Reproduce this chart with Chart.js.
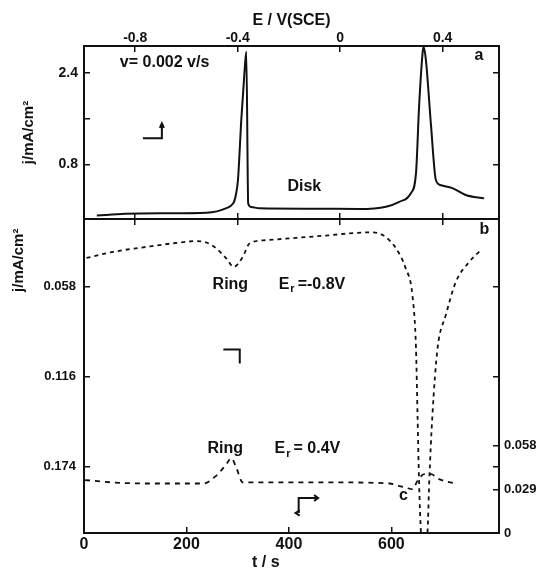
<!DOCTYPE html>
<html>
<head>
<meta charset="utf-8">
<script src="https://cdn.jsdelivr.net/npm/chart.js@4.4.1/dist/chart.umd.min.js"></script>
<style>
  html, body { margin: 0; padding: 0; background: #fff; }
  #wrap { position: relative; width: 537px; height: 571px; }
  #wrap canvas { position: absolute; left: 0; top: 0; }
</style>
</head>
<body>
<div id="wrap">
  <canvas id="ringChart" width="537" height="571"></canvas>
  <canvas id="diskChart" width="537" height="571"></canvas>
</div>
<script>
// ---- tick labels ----
const eTicks = [-0.8, -0.4, 0, 0.4];
const eTickLabels = ["-0.8", "-0.4", "0", "0.4"];
const tTicks = [0, 200, 400, 600];
const tTickLabels = ["0", "200", "400", "600"];
const diskTicks = [0.8, 1.6, 2.4];
const diskTickLabels = ["0.8", "", "2.4"];
const ringLeftTicks = [0.058, 0.116, 0.174];
const ringLeftLabels = ["0.058", "0.116", "0.174"];
const ringRightTicks = [0, 0.029, 0.058];
const ringRightLabels = ["0", "0.029", "0.058"];

// ---- disk current (panel a), t in s, j in mA/cm2 ----
const diskT = [25, 80, 160, 239, 278, 291, 294, 297, 300.5, 307, 313.5, 316.8,
  320.5, 326, 342.7, 440, 537.5, 589.5, 615.4, 638, 648, 654, 660.8, 662.8,
  667.4, 677, 686.8, 696.6, 719, 745, 781];
const diskJ = [-0.09, -0.06, -0.05, -0.04, 0.04, 0.12, 0.18, 0.30, 0.53, 1.58, 2.45, 2.77,
  0.12, 0.06, 0.036, 0.03, 0.024, 0.065, 0.15, 0.30, 0.65, 1.81, 2.74, 2.86,
  2.62, 1.52, 0.53, 0.44, 0.39, 0.27, 0.21];

// ---- ring current, Er = -0.8 V (left axis, plotted downward) ----
const ringNegT = [5, 57, 122, 187, 219.5, 239, 258, 278, 292, 310, 323, 355.8, 414, 466,
  557, 583, 609, 628, 641, 648, 651, 654, 657.6, 663, 670.5, 673.8, 680, 690, 706,
  725.8, 751.7, 774.5];
const ringNegJ = [0.0398, 0.0359, 0.0327, 0.0299, 0.029, 0.0299, 0.0337, 0.0402, 0.0456,
  0.0391, 0.0305, 0.0284, 0.0269, 0.0256, 0.0234, 0.0251, 0.0337, 0.0466, 0.0638, 0.0981,
  0.141, 0.184, 0.216, 0.235, 0.216, 0.184, 0.141, 0.0981, 0.0767, 0.0552, 0.0424, 0.0348];

// ---- ring current, Er = 0.4 V (right axis) ----
const ringPosT = [2, 57, 122, 232, 258, 278, 287.6, 297, 310, 401, 498.5, 596, 618, 628,
  641, 651, 664, 677, 693, 725.8];
const ringPosJ = [0.0352, 0.0336, 0.0329, 0.0329, 0.038, 0.0458, 0.0498, 0.0436, 0.0336,
  0.0336, 0.0336, 0.0329, 0.031, 0.0302, 0.0291, 0.0347, 0.0391, 0.0391, 0.0358, 0.0329];

// время и потенциал: E = -1.0 + 0.002 * t
const T_MAX = 810;
const E_MIN = -1.0;
const E_MAX = E_MIN + 0.002 * T_MAX;

// ---- layout ----
const W = 537, H = 571;
const LEFT = 84, RIGHT = 499, TOP = 46, MID = 219, BOTTOM = 533;

const FONT = "'Liberation Sans', Arial, sans-serif";
const INK = "#111";

const pts = (xs, ys) => xs.map((x, i) => ({ x, y: ys[i] }));

function fixTicks(values) {
  return s => { s.ticks = values.map(v => ({ value: v })); };
}
function labelFrom(values, labels) {
  return v => {
    const i = values.findIndex(x => Math.abs(x - v) < 1e-9);
    return i >= 0 ? labels[i] : "";
  };
}

// общий стиль оси: рамка + засечки внутрь
function axis(extra) {
  const base = {
    type: "linear",
    grid: { drawOnChartArea: false, tickLength: -6, color: INK, lineWidth: 1.5 },
    border: { display: true, color: INK, width: 2 },
    ticks: { color: INK, font: { family: FONT, size: 13, weight: "bold" } }
  };
  return Object.assign(base, extra, {
    grid: Object.assign({}, base.grid, extra.grid || {}),
    ticks: Object.assign({}, base.ticks, extra.ticks || {})
  });
}

function subE(ctx, x, y, rest) {
  ctx.textAlign = "left";
  ctx.fillText("E", x, y);
  const w = ctx.measureText("E").width;
  const f = ctx.font;
  ctx.font = "bold 11px " + FONT;
  ctx.fillText("r", x + w + 1, y + 5);
  const wr = ctx.measureText("r").width;
  ctx.font = f;
  ctx.fillText(rest, x + w + wr + 4, y);
}

// ===== panel a: disk =====
const diskNotes = {
  id: "diskNotes",
  afterDraw(chart) {
    const ctx = chart.ctx;
    const px = v => chart.scales.t.getPixelForValue(v);
    const py = v => chart.scales.ya.getPixelForValue(v);
    ctx.save();
    ctx.fillStyle = INK;
    ctx.strokeStyle = INK;
    ctx.font = "bold 16px " + FONT;
    ctx.textBaseline = "middle";
    ctx.textAlign = "left";
    ctx.fillText("v= 0.002 v/s", px(70), py(2.58));
    ctx.fillText("a", px(762), py(2.71));
    ctx.textAlign = "center";
    ctx.fillText("Disk", px(430), py(0.41));
    // знак направления развёртки
    ctx.lineWidth = 2;
    ctx.beginPath();
    ctx.moveTo(px(115), py(1.26));
    ctx.lineTo(px(152), py(1.26));
    ctx.lineTo(px(152), py(1.5));
    ctx.stroke();
    ctx.beginPath();
    ctx.moveTo(px(148), py(1.44));
    ctx.lineTo(px(152), py(1.52));
    ctx.lineTo(px(156), py(1.44));
    ctx.stroke();
    ctx.restore();
  }
};

new Chart(document.getElementById("diskChart"), {
  type: "line",
  data: {
    datasets: [{
      label: "Disk",
      data: pts(diskT, diskJ),
      xAxisID: "t",
      yAxisID: "ya",
      borderColor: INK,
      borderWidth: 2,
      pointRadius: 0,
      fill: false,
      cubicInterpolationMode: "monotone"
    }]
  },
  options: {
    responsive: false,
    animation: false,
    layout: { padding: 0 },
    plugins: { legend: { display: false }, tooltip: { enabled: false } },
    scales: {
      t: { type: "linear", display: false, min: 0, max: T_MAX },
      eTop: axis({
        position: "top", min: E_MIN, max: E_MAX,
        afterBuildTicks: fixTicks(eTicks),
        afterFit: s => { s.height = TOP; },
        ticks: { padding: 5, font: { family: FONT, size: 14, weight: "bold" },
          callback: labelFrom(eTicks, eTickLabels) },
        title: {
          display: true, text: "E / V(SCE)", color: INK,
          font: { family: FONT, size: 16, weight: "bold" }, padding: { top: 11 }
        }
      }),
      eBot: axis({
        position: "bottom", min: E_MIN, max: E_MAX,
        afterBuildTicks: fixTicks(eTicks),
        afterFit: s => { s.height = H - MID; },
        ticks: { display: false }
      }),
      ya: axis({
        position: "left", min: -0.15, max: 2.87,
        afterBuildTicks: fixTicks(diskTicks),
        afterFit: s => { s.width = LEFT; },
        ticks: { padding: 12, font: { family: FONT, size: 14, weight: "bold" },
          callback: labelFrom(diskTicks, diskTickLabels) },
        title: {
          display: true, text: "j/mA/cm²", color: INK,
          font: { family: FONT, size: 15, weight: "bold" }, padding: { top: 20 }
        }
      }),
      yaR: axis({
        position: "right", min: -0.15, max: 2.87,
        afterBuildTicks: fixTicks(diskTicks),
        afterFit: s => { s.width = W - RIGHT; },
        ticks: { display: false }
      })
    }
  },
  plugins: [diskNotes]
});

// ===== panel b: ring =====
const ringNotes = {
  id: "ringNotes",
  afterDraw(chart) {
    const ctx = chart.ctx;
    const px = v => chart.scales.t.getPixelForValue(v);
    const pl = v => chart.scales.yb.getPixelForValue(v);
    const pr = v => chart.scales.yr.getPixelForValue(v);
    ctx.save();
    ctx.fillStyle = INK;
    ctx.strokeStyle = INK;
    ctx.font = "bold 16px " + FONT;
    ctx.textBaseline = "middle";
    ctx.textAlign = "left";
    ctx.fillText("b", px(772), pl(0.0219));
    ctx.fillText("Ring", px(251), pl(0.0567));
    subE(ctx, px(380), pl(0.0567), "=-0.8V");
    ctx.fillText("Ring", px(241), pr(0.056));
    subE(ctx, px(372), pr(0.056), "= 0.4V");
    ctx.fillText("c", px(615), pr(0.0247));
    ctx.textAlign = "center";
    ctx.fillText("t / s", px(355), chart.chartArea.bottom + 30);

    // ось ординат панели b
    ctx.save();
    ctx.translate(19, pl(0.0413));
    ctx.rotate(-Math.PI / 2);
    ctx.font = "bold 15px " + FONT;
    ctx.fillText("j/mA/cm²", 0, 0);
    ctx.restore();

    // значки направления развёртки
    ctx.lineWidth = 2;
    ctx.beginPath();
    ctx.moveTo(px(272), pl(0.0986));
    ctx.lineTo(px(304), pl(0.0986));
    ctx.lineTo(px(304), pl(0.1076));
    ctx.stroke();

    ctx.beginPath();
    ctx.moveTo(px(419), pr(0.0133));
    ctx.lineTo(px(419), pr(0.0233));
    ctx.lineTo(px(455), pr(0.0233));
    ctx.stroke();
    ctx.beginPath();
    ctx.moveTo(px(449), pr(0.0253));
    ctx.lineTo(px(457), pr(0.0233));
    ctx.lineTo(px(449), pr(0.0213));
    ctx.stroke();
    ctx.beginPath();
    ctx.moveTo(px(421), pr(0.0150));
    ctx.lineTo(px(413), pr(0.0133));
    ctx.lineTo(px(421), pr(0.0116));
    ctx.stroke();
    ctx.restore();
  }
};

new Chart(document.getElementById("ringChart"), {
  type: "line",
  data: {
    datasets: [
      {
        label: "Ring Er = -0.8 V",
        data: pts(ringNegT, ringNegJ),
        xAxisID: "t",
        yAxisID: "yb",
        borderColor: INK,
        borderWidth: 1.8,
        borderDash: [4, 4],
        pointRadius: 0,
        fill: false,
        cubicInterpolationMode: "monotone"
      },
      {
        label: "Ring Er = 0.4 V",
        data: pts(ringPosT, ringPosJ),
        xAxisID: "t",
        yAxisID: "yr",
        borderColor: INK,
        borderWidth: 1.8,
        borderDash: [5, 5],
        pointRadius: 0,
        fill: false,
        cubicInterpolationMode: "monotone"
      }
    ]
  },
  options: {
    responsive: false,
    animation: false,
    layout: { padding: 0 },
    plugins: { legend: { display: false }, tooltip: { enabled: false } },
    scales: {
      t: axis({
        position: "bottom", min: 0, max: T_MAX,
        afterBuildTicks: fixTicks(tTicks),
        afterFit: s => { s.height = H - BOTTOM; },
        ticks: { padding: 8, font: { family: FONT, size: 16, weight: "bold" },
          callback: labelFrom(tTicks, tTickLabels) }
      }),
      eTopB: axis({
        position: "top", min: E_MIN, max: E_MAX,
        afterBuildTicks: fixTicks(eTicks),
        afterFit: s => { s.height = MID; },
        ticks: { display: false }
      }),
      yb: axis({
        position: "left", reverse: true, min: 0.0148, max: 0.2165,
        afterBuildTicks: fixTicks(ringLeftTicks),
        afterFit: s => { s.width = LEFT; },
        ticks: { padding: 14, callback: labelFrom(ringLeftTicks, ringLeftLabels) }
      }),
      ybR: axis({
        position: "right", reverse: true, min: 0.0148, max: 0.2165,
        afterBuildTicks: fixTicks(ringLeftTicks),
        afterFit: s => { s.width = 0; },
        ticks: { display: false }
      }),
      yr: axis({
        position: "right", min: 0, max: 0.2087,
        afterBuildTicks: fixTicks(ringRightTicks),
        afterFit: s => { s.width = W - RIGHT; },
        ticks: { padding: 11, callback: labelFrom(ringRightTicks, ringRightLabels) }
      })
    }
  },
  plugins: [ringNotes]
});
</script>
</body>
</html>
